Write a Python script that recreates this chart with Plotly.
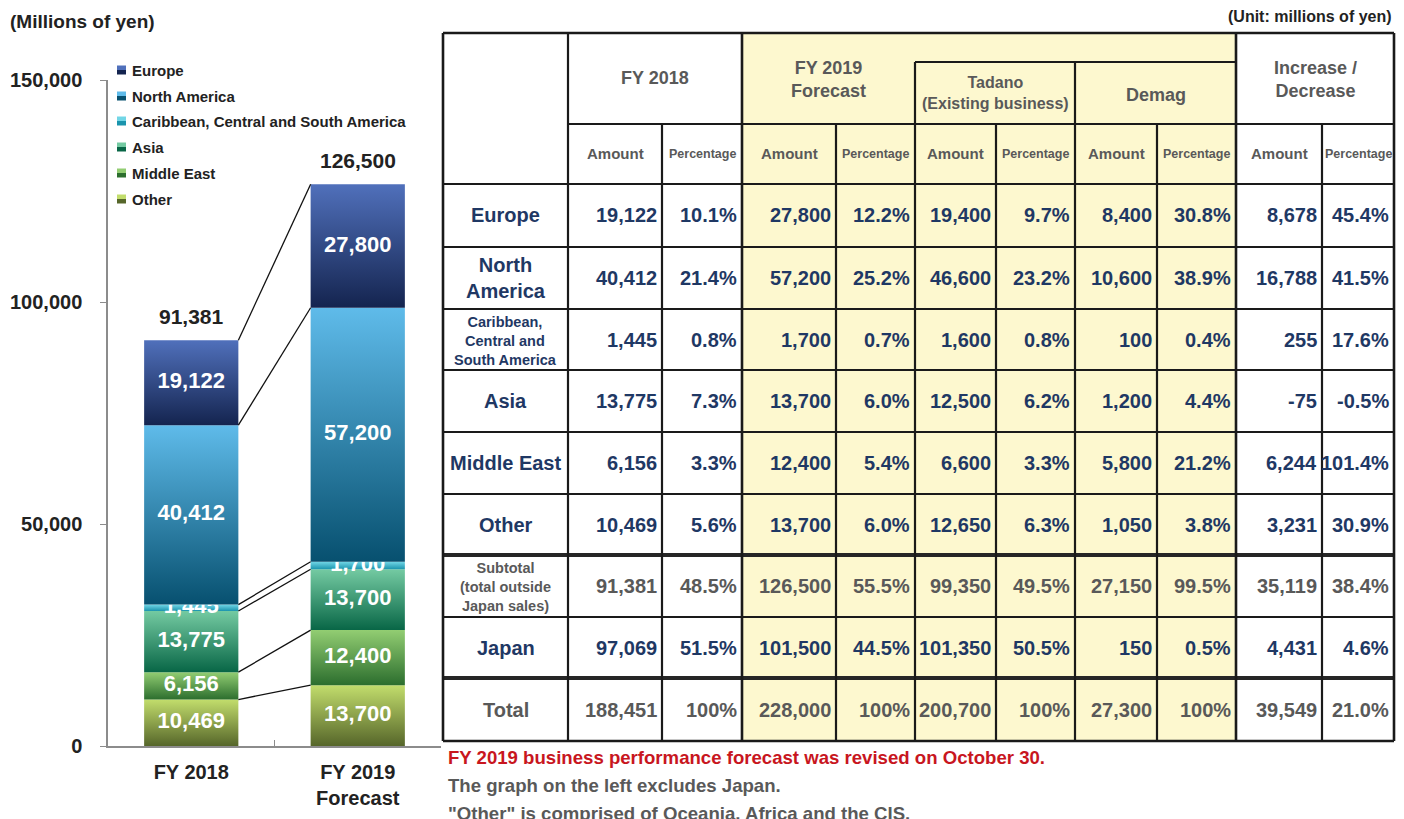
import plotly.graph_objects as go

# ---------------- data ----------------
categories = ["FY 2018", "FY 2019<br>Forecast"]
regions = ["Europe", "North America", "Caribbean, Central and South America",
           "Asia", "Middle East", "Other"]
chart_fy2018 = [19122, 40412, 1445, 13775, 6156, 10469]
chart_fy2019 = [27800, 57200, 1700, 13700, 12400, 13700]
chart_totals = [91381, 126500]
y_ticks = [0, 50000, 100000, 150000]

row_labels = ["Europe", "North<br>America", "Caribbean,<br>Central and<br>South America",
              "Asia", "Middle East", "Other",
              "Subtotal<br>(total outside<br>Japan sales)", "Japan", "Total"]
fy2018_amt = [19122, 40412, 1445, 13775, 6156, 10469, 91381, 97069, 188451]
fy2018_pct = [10.1, 21.4, 0.8, 7.3, 3.3, 5.6, 48.5, 51.5, 100]
fy2019_amt = [27800, 57200, 1700, 13700, 12400, 13700, 126500, 101500, 228000]
fy2019_pct = [12.2, 25.2, 0.7, 6.0, 5.4, 6.0, 55.5, 44.5, 100]
tadano_amt = [19400, 46600, 1600, 12500, 6600, 12650, 99350, 101350, 200700]
tadano_pct = [9.7, 23.2, 0.8, 6.2, 3.3, 6.3, 49.5, 50.5, 100]
demag_amt = [8400, 10600, 100, 1200, 5800, 1050, 27150, 150, 27300]
demag_pct = [30.8, 38.9, 0.4, 4.4, 21.2, 3.8, 99.5, 0.5, 100]
chg_amt = [8678, 16788, 255, -75, 6244, 3231, 35119, 4431, 39549]
chg_pct = [45.4, 41.5, 17.6, -0.5, 101.4, 30.9, 38.4, 4.6, 21.0]

footnotes = ["FY 2019 business performance forecast was revised on October 30.",
             "The graph on the left excludes Japan.",
             "\"Other\" is comprised of Oceania, Africa and the CIS."]

# ---------------- styles ----------------
FONT = "Liberation Sans, Arial, sans-serif"
NAVY = "#1f3864"
GRAY = "#595959"
DARK = "#222222"
YELLOW = "#fdf8cf"
grad = {  # (dark bottom, light top)
    "Europe": ("#14244f", "#5070bb"),
    "North America": ("#07506f", "#5fbbea"),
    "Caribbean, Central and South America": ("#1a94ad", "#72d6e6"),
    "Asia": ("#086646", "#74caa2"),
    "Middle East": ("#2c6e2e", "#92cd72"),
    "Other": ("#56662a", "#c2dd6c"),
}

OFF = 8  # page body margin offset
W, H = 1404 - OFF, 819 - OFF
def px(x): return (x - OFF) / W
def py(y): return 1 - (y - OFF) / H

fig = go.Figure()
annos = []
shapes = []

bar_w = 0.566
series_by_cat = [chart_fy2018, chart_fy2019]
stack_order = list(range(len(regions)))[::-1]  # bottom: Other ... top: Europe

bounds = []
for ci, vals in enumerate(series_by_cat):
    base = 0
    b = [0]
    for ri in stack_order:
        v = vals[ri]
        x0, x1 = ci - bar_w / 2, ci + bar_w / 2
        dark, light = grad[regions[ri]]
        fig.add_trace(go.Scatter(
            x=[x0, x1, x1, x0, x0], y=[base, base, base + v, base + v, base],
            mode="lines", line=dict(width=0), fill="toself",
            fillcolor=light,
            fillgradient=dict(type="vertical", colorscale=[[0, dark], [1, light]]),
            showlegend=False, hoverinfo="skip", name=regions[ri]))
        fig.add_trace(go.Scatter(
            x=[ci], y=[base + v / 2], mode="text", text=[f"{v:,}"],
            textfont=dict(family=FONT, size=22, color="white", weight="bold"),
            showlegend=False, hoverinfo="skip"))
        base += v
        b.append(base)
    bounds.append(b)
    annos.append(dict(x=ci, y=base, xref="x", yref="y", text=f"{chart_totals[ci]:,}",
                      showarrow=False, yanchor="bottom", yshift=10,
                      font=dict(family=FONT, size=21, color=DARK, weight="bold")))

# connector lines
lx, ly = [], []
for k in range(1, len(bounds[0])):
    lx += [0 + bar_w / 2, 1 - bar_w / 2, None]
    ly += [bounds[0][k], bounds[1][k], None]
fig.add_trace(go.Scatter(x=lx, y=ly, mode="lines", line=dict(color="#111", width=1.3),
                         showlegend=False, hoverinfo="skip"))

fig.update_layout(
    width=W, height=H, margin=dict(l=0, r=0, t=0, b=0, autoexpand=False),
    paper_bgcolor="white", plot_bgcolor="white", showlegend=False,
    xaxis=dict(domain=[px(108), px(441)], range=[-0.5, 1.5], tickvals=[0, 1],
               ticktext=categories, showline=True, linecolor="#8c8c8c", linewidth=1.5,
               showgrid=False, zeroline=False, ticks="", automargin=False,
               ticklabelstandoff=7,
               minor=dict(tickvals=[0.5], ticks="inside", ticklen=6, tickcolor="#8c8c8c"),
               tickfont=dict(family=FONT, size=20, color=DARK, weight="bold")),
    yaxis=dict(domain=[py(746), py(80)], range=[0, 150000], tickvals=y_ticks,
               ticktext=[f"{v:,}" for v in y_ticks], showline=True, linecolor="#8c8c8c",
               linewidth=1.5, ticks="outside", ticklen=6, tickcolor="#8c8c8c",
               showgrid=False, zeroline=False, ticklabelstandoff=14, automargin=False,
               tickfont=dict(family=FONT, size=20, color=DARK, weight="bold")),
)

def txt(x, y, s, size, color, xanchor="center", weight="bold"):
    annos.append(dict(x=px(x), y=py(y), xref="paper", yref="paper", text=s,
                      showarrow=False, xanchor=xanchor, yanchor="middle",
                      font=dict(family=FONT, size=size, color=color, weight=weight)))

# ---------------- table geometry ----------------
cx = [443, 568, 662, 742, 836, 915, 996, 1075, 1157, 1236, 1322, 1394]
ry = [184, 247, 309, 370, 432, 494, 555, 617, 678, 741]
top = 33

# title and unit
txt(8, 21, "(Millions of yen)", 19, DARK, "left")
txt(cx[-1], 17, "(Unit: millions of yen)", 16, DARK, "right")

# manual legend
leg_y = [70, 96, 121, 147, 173, 199]
for name, yc in zip(regions, leg_y):
    dark, light = grad[name]
    shapes.append(dict(type="rect", xref="paper", yref="paper", x0=px(117), x1=px(126),
                       y0=py(yc - 4.5), y1=py(yc), fillcolor=light, line=dict(width=0)))
    shapes.append(dict(type="rect", xref="paper", yref="paper", x0=px(117), x1=px(126),
                       y0=py(yc + 4.5), y1=py(yc), fillcolor=dark, line=dict(width=0)))
    txt(130, yc, name, 15, DARK, "left")

def rect(x0, x1, y0, y1, color):
    shapes.append(dict(type="rect", xref="paper", yref="paper", x0=px(x0), x1=px(x1),
                       y0=py(y1), y1=py(y0), fillcolor=color, line=dict(width=0), layer="below"))

def hline(x0, x1, y, w=2.2, c="#1a1a1a"):
    shapes.append(dict(type="line", xref="paper", yref="paper", x0=px(x0), x1=px(x1),
                       y0=py(y), y1=py(y), line=dict(color=c, width=w)))

def vline(x, y0, y1, w=2.2, c="#1a1a1a"):
    shapes.append(dict(type="line", xref="paper", yref="paper", x0=px(x), x1=px(x),
                       y0=py(y0), y1=py(y1), line=dict(color=c, width=w)))

rect(cx[3], cx[9], top, ry[-1], YELLOW)

hline(cx[0], cx[-1], top, 2.6)
hline(cx[5], cx[9], 62)
hline(cx[1], cx[-1], 124)
for y in ry:
    if y in (555, 678):
        hline(cx[0], cx[-1], y, 4.2, "#262626")
    else:
        hline(cx[0], cx[-1], y, 2.6 if y == ry[-1] else 2.2)
vline(cx[0], top, ry[-1], 2.6)
vline(cx[-1], top, ry[-1], 2.6)
vline(cx[1], top, ry[-1])
vline(cx[3], top, ry[-1], 2.6)
vline(cx[9], top, ry[-1], 2.6)
vline(cx[5], 62, ry[-1])
vline(cx[7], 62, ry[-1])
for k in (2, 4, 6, 8, 10):
    vline(cx[k], 124, ry[-1])

# headers
txt((cx[1] + cx[3]) / 2, 78, "FY 2018", 18, GRAY)
txt((cx[3] + cx[5]) / 2, 79, "FY 2019<br>Forecast", 18, GRAY)
txt((cx[5] + cx[7]) / 2, 93, "Tadano<br>(Existing business)", 16, GRAY)
txt((cx[7] + cx[9]) / 2, 95, "Demag", 18, GRAY)
txt((cx[9] + cx[11]) / 2, 80, "Increase /<br>Decrease", 18, GRAY)
for k in range(5):
    a0, a1, a2 = cx[1 + 2 * k], cx[2 + 2 * k], cx[3 + 2 * k]
    txt((a0 + a1) / 2, 154, "Amount", 15, GRAY)
    txt((a1 + a2) / 2, 154, "Percentage", 12.5, GRAY)

def fmt_amt(v): return f"{v:,}"
def fmt_pct(v): return "100%" if v == 100 else f"{v:.1f}%"

columns = [(fy2018_amt, fmt_amt), (fy2018_pct, fmt_pct),
           (fy2019_amt, fmt_amt), (fy2019_pct, fmt_pct),
           (tadano_amt, fmt_amt), (tadano_pct, fmt_pct),
           (demag_amt, fmt_amt), (demag_pct, fmt_pct),
           (chg_amt, fmt_amt), (chg_pct, fmt_pct)]

for r, lab in enumerate(row_labels):
    yc = (ry[r] + ry[r + 1]) / 2
    color = GRAY if r in (6, 8) else NAVY
    size = 14.5 if r in (2, 6) else 20
    txt((cx[0] + cx[1]) / 2, yc + (1 if r in (2, 6) else 0), lab, size, color)
    for c, (vals, f) in enumerate(columns):
        txt(cx[c + 2] - 3, yc, f(vals[r]), 20, color, "right")

# footnotes
foot_colors = ["#c8161e", GRAY, GRAY]
for k, (s, col) in enumerate(zip(footnotes, foot_colors)):
    txt(446, 757 + 28 * k, s, 18.6, col, "left")

fig.update_layout(shapes=shapes, annotations=annos)
fig.write_html("out.html")
